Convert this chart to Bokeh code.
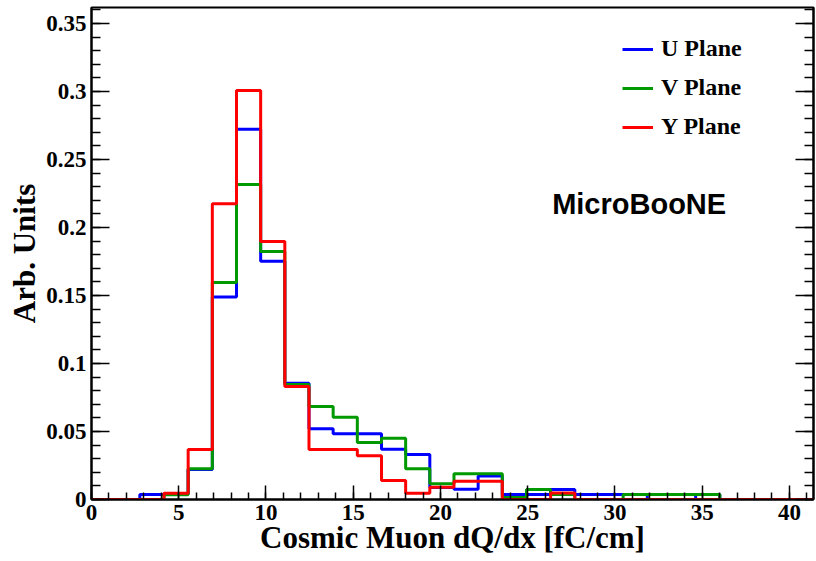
import numpy as np
from bokeh.plotting import figure
from bokeh.models import FixedTicker, LinearAxis, Legend, LegendItem, Label, Range1d
from bokeh.embed import file_html
from bokeh.resources import INLINE

# ---------------- data ----------------
bin_width = 1.385
n_bins = 30
u_plane = [0, 0, 0.0037, 0.0040, 0.0220, 0.1490, 0.2723, 0.1752, 0.0855, 0.0520,
           0.0483, 0.0483, 0.0370, 0.0331, 0.0088, 0.0075, 0.0172, 0.0036, 0.0036, 0.0074,
           0.0036, 0.0036, 0.0036, 0, 0, 0.0036, 0, 0, 0, 0]
v_plane = [0, 0, 0, 0.0035, 0.0226, 0.1596, 0.2316, 0.1824, 0.0846, 0.0684,
           0.0605, 0.0419, 0.0451, 0.0226, 0.0115, 0.0189, 0.0189, 0.0015, 0.0074, 0.0037,
           0, 0, 0.0037, 0.0037, 0.0037, 0.0037, 0, 0, 0, 0]
y_plane = [0, 0, 0, 0.0046, 0.0368, 0.2174, 0.3007, 0.1897, 0.0831, 0.0368,
           0.0368, 0.0321, 0.0140, 0.0046, 0.0090, 0.0135, 0.0135, 0, 0, 0.0047,
           0, 0, 0, 0, 0, 0, 0, 0, 0, 0]
series_names = ["U Plane", "V Plane", "Y Plane"]
series_colors = ["#0000ff", "#009900", "#ff0000"]

x_ticks = [0, 5, 10, 15, 20, 25, 30, 35, 40]
x_tick_labels = ["0", "5", "10", "15", "20", "25", "30", "35", "40"]
x_minor_ticks = list(range(0, 42))
y_ticks = [0, 0.05, 0.1, 0.15, 0.2, 0.25, 0.3, 0.35]
y_tick_labels = ["0", "0.05", "0.1", "0.15", "0.2", "0.25", "0.3", "0.35"]
y_minor_ticks = [round(0.01 * i, 2) for i in range(0, 37)]

x_title = "Cosmic Muon dQ/dx [fC/cm]"
y_title = "Arb. Units"
tag_text = "MicroBooNE"

# ---------------- figure ----------------
edges = np.arange(n_bins + 1) * bin_width

p = figure(width=816, height=561, x_range=Range1d(0, 41.38), y_range=Range1d(0, 0.3618),
           output_backend="svg", toolbar_location=None,
           min_border_left=91, min_border_right=3, min_border_top=7, min_border_bottom=62)
p.grid.visible = False
p.outline_line_color = "black"
p.outline_line_width = 2
p.background_fill_color = "white"
p.border_fill_color = "white"

serif = "Liberation Serif"

def style_axis(ax, tick_in, minor_in):
    ax.axis_line_width = 2
    ax.axis_line_color = "black"
    ax.major_tick_in = tick_in
    ax.major_tick_out = 0
    ax.minor_tick_in = minor_in
    ax.minor_tick_out = 0
    ax.major_tick_line_width = 1.5
    ax.minor_tick_line_width = 1.5
    ax.major_tick_line_color = "black"
    ax.minor_tick_line_color = "black"
    ax.major_label_text_font = serif
    ax.major_label_text_font_style = "bold"
    ax.major_label_text_font_size = "23px"
    ax.major_label_text_color = "black"
    ax.axis_label_text_font = serif
    ax.axis_label_text_font_style = "bold"
    ax.axis_label_text_font_size = "31px"
    ax.axis_label_text_color = "black"

xt = FixedTicker(ticks=x_ticks, minor_ticks=x_minor_ticks)
yt = FixedTicker(ticks=y_ticks, minor_ticks=y_minor_ticks)

xa = p.xaxis[0]
xa.ticker = xt
xa.major_label_overrides = {t: l for t, l in zip(x_ticks, x_tick_labels)}
style_axis(xa, 14, 7)
xa.axis_label = x_title
xa.major_label_standoff = 5
xa.axis_label_standoff = -3

ya = p.yaxis[0]
ya.ticker = yt
ya.major_label_overrides = {t: l for t, l in zip(y_ticks, y_tick_labels)}
style_axis(ya, 18, 9)
ya.axis_label = y_title
ya.major_label_standoff = 5
ya.axis_label_standoff = 1

ra = LinearAxis(ticker=yt)
style_axis(ra, 18, 9)
ra.major_label_overrides = {t: "" for t in y_ticks}
ra.major_label_standoff = 0
ra.major_label_text_font_size = "0px"
p.add_layout(ra, "right")

renderers = []
for vals, col in zip([u_plane, v_plane, y_plane], series_colors):
    yv = np.append(np.array(vals, dtype=float), vals[-1])
    r = p.step(x=edges, y=yv, mode="after", line_color=col, line_width=3)
    renderers.append(r)

legend = Legend(items=[LegendItem(label=n, renderers=[r]) for n, r in zip(series_names, renderers)],
                location=(531, 359), orientation="vertical",
                border_line_alpha=0, background_fill_alpha=0, padding=0, margin=0,
                spacing=12, glyph_width=31, glyph_height=26, label_height=26,
                label_standoff=8, label_text_font=serif, label_text_font_style="bold",
                label_text_font_size="24px", label_text_color="black")
p.add_layout(legend)

p.add_layout(Label(x=26.4, y=0.217, text=tag_text, text_font="Liberation Sans",
                   text_font_style="bold", text_font_size="29px", text_baseline="alphabetic",
                   text_color="black"))

open("out.html", "w").write(file_html(p, INLINE))
